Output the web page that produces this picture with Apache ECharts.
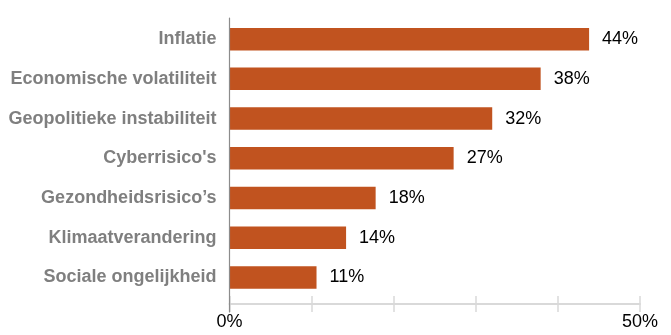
<!DOCTYPE html>
<html>
<head>
<meta charset="utf-8">
<script src="https://cdn.jsdelivr.net/npm/echarts@6/dist/echarts.min.js"></script>
<style>html,body{margin:0;padding:0;background:#fff}#c{width:671px;height:335px}</style>
</head>
<body>
<div id="c"></div>
<script>
const categories = ["Inflatie","Economische volatiliteit","Geopolitieke instabiliteit","Cyberrisico's","Gezondheidsrisico’s","Klimaatverandering","Sociale ongelijkheid"];
const values = [43.8, 37.9, 32.0, 27.3, 17.8, 14.2, 10.6];
const tickLabels = {0: "0%", 50: "50%"};
const axisMin = 0, axisMax = 50, axisInterval = 10;

const chart = echarts.init(document.getElementById('c'), null, {renderer: 'canvas'});
const font = 'Liberation Sans, Arial, sans-serif';
chart.setOption({
  animation: false,
  grid: [
    {left: 229.5, right: 31, top: 19.3, height: 278},
    {left: 229.5, right: 31, top: 18, bottom: 23},
    {left: 229.5, right: 31, top: 18, bottom: 31},
    {left: 229.5, right: 31, top: 18, bottom: 31}
  ],
  xAxis: [
    {gridIndex: 0, type: 'value', min: axisMin, max: axisMax, interval: axisInterval, show: false},
    {gridIndex: 1, type: 'value', min: axisMin, max: axisMax, interval: axisInterval, show: false},
    {gridIndex: 2, type: 'value', position: 'bottom', min: axisMin, max: axisMax, interval: axisInterval,
      axisLine: {show: true, onZero: false, lineStyle: {color: '#d9d9d9', width: 2}},
      axisTick: {show: true, length: 8, lineStyle: {color: '#d9d9d9', width: 1.5}},
      splitLine: {show: false},
      axisLabel: {show: true, margin: 9, fontFamily: font, fontSize: 18, color: '#000',
        formatter: v => tickLabels[v] || ''}},
    {gridIndex: 3, type: 'value', position: 'bottom', min: axisMin, max: axisMax, interval: axisInterval,
      axisLine: {show: false, onZero: false},
      axisTick: {show: true, inside: true, length: 8, lineStyle: {color: '#d9d9d9', width: 1.5}},
      splitLine: {show: false}, axisLabel: {show: false}}
  ],
  yAxis: [
    {gridIndex: 0, type: 'category', data: categories, inverse: true,
      axisLine: {show: false}, axisTick: {show: false},
      axisLabel: {margin: 13, fontFamily: font, fontSize: 18, fontWeight: 'bold', color: '#7f7f7f'}},
    {gridIndex: 1, type: 'value', min: 0, max: 1, z: 5,
      axisLine: {show: true, onZero: false, lineStyle: {color: '#8c8c8c', width: 1.2}},
      axisTick: {show: false}, axisLabel: {show: false}, splitLine: {show: false}},
    {gridIndex: 2, type: 'value', min: 0, max: 1, show: false},
    {gridIndex: 3, type: 'value', min: 0, max: 1, show: false}
  ],
  series: [{
    type: 'bar', xAxisIndex: 0, yAxisIndex: 0, data: values, barWidth: 22.5,
    itemStyle: {color: '#C1531F'},
    label: {show: true, position: 'right', distance: 13, fontFamily: font, fontSize: 18, color: '#000',
      formatter: p => Math.round(p.value) + '%'}
  }]
});
</script>
</body>
</html>
